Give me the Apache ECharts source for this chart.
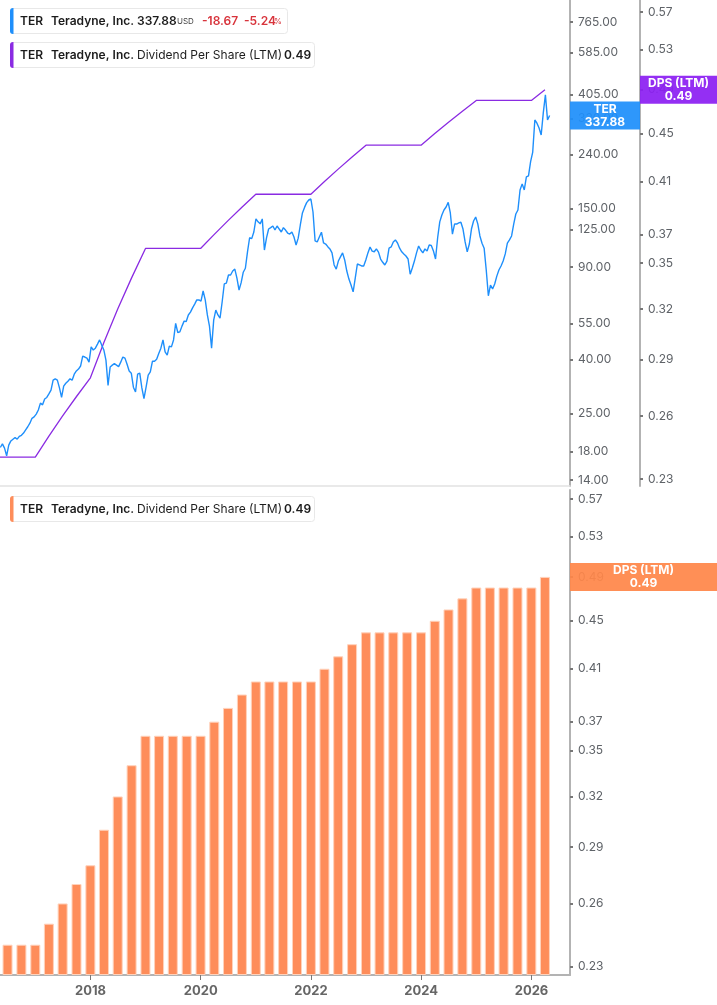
<!DOCTYPE html>
<html>
<head>
<meta charset="utf-8">
<title>TER - Dividend Per Share (LTM)</title>
<script src="https://cdn.jsdelivr.net/npm/echarts@6/dist/echarts.min.js"></script>
<style>
  html, body { margin: 0; padding: 0; background: #fff; }
  #main { width: 717px; height: 1005px; }
</style>
</head>
<body>
<div id="main"></div>
<script type="text/javascript">
// closing prices, one every 14 days starting 2016-05-13
var priceStart = [2016, 4, 13];
var priceStepDays = 14;
var priceValues = [
  18.6, 19.2, 18.5, 17.3, 19.0, 19.7, 20.0, 20.3, 20.0, 20.5, 20.7, 21.1, 21.7, 22.3, 23.0, 24.0, 24.3, 24.9, 25.8, 27.4, 27.0, 28.4, 28.8, 29.7, 30.7, 33.5,
  33.9, 33.5, 31.3, 28.8, 31.8, 32.6, 33.2, 33.9, 33.5, 35.3, 36.3, 36.9, 37.9, 41.3, 41.0, 40.6, 39.2, 44.8, 43.6, 44.3, 45.9, 47.6, 45.5, 43.6, 39.9,
  32.0, 37.6, 38.2, 38.7, 38.2, 37.7, 39.2, 41.0, 40.6, 38.5, 36.3, 35.6, 31.5, 30.2, 35.3, 35.6, 31.3, 28.5, 31.5, 35.0, 36.0, 39.5, 39.5, 40.2, 42.3,
  44.3, 47.6, 42.9, 41.7, 45.1, 44.8, 47.6, 55.0, 50.8, 51.1, 53.7, 56.1, 55.9, 59.2, 60.7, 63.0, 65.1, 67.5, 67.5, 66.8, 73.0, 67.5, 59.2, 53.7, 44.3,
  56.6, 61.8, 59.2, 57.6, 66.3, 77.6, 78.2, 83.9, 83.9, 86.9, 88.4, 81.7, 73.6, 78.5, 86.0, 89.0, 102.7, 116.2, 115.3, 122.2, 137.0, 133.5, 131.2, 137.0, 104.4,
  116.0, 125.4, 126.9, 128.8, 124.3, 128.8, 125.4, 122.2, 126.9, 124.3, 121.1, 120.0, 122.2, 117.0, 109.1, 115.8, 129.9, 144.3, 151.5, 157.9, 161.6, 163.0, 145.5, 113.0, 112.0,
  117.0, 122.0, 111.0, 110.0, 107.5, 105.4, 101.8, 91.6, 88.4, 94.8, 98.3, 101.8, 95.7, 86.9, 81.0, 76.9, 72.4, 81.7, 92.4, 91.6, 90.8, 90.8, 95.7, 101.8, 107.2,
  103.4, 102.8, 105.4, 102.5, 96.5, 93.8, 91.6, 94.8, 106.1, 107.2, 111.9, 114.0, 111.0, 106.1, 102.8, 100.9, 99.1, 96.5, 84.5, 89.2, 94.8, 101.8, 108.1, 104.4, 101.8,
  105.4, 103.6, 109.1, 108.6, 103.6, 96.5, 116.2, 133.5, 141.8, 148.1, 152.0, 158.3, 144.3, 120.0, 131.0, 131.0, 132.3, 133.0, 125.4, 112.0, 102.8, 110.0, 125.4, 134.5, 139.2,
  131.2, 118.0, 110.7, 106.1, 87.7, 70.0, 76.9, 74.3, 77.6, 83.1, 87.7, 90.8, 94.8, 100.9, 110.8, 114.0, 118.0, 131.0, 143.0, 148.1, 176.4, 186.0, 176.4, 197.6, 199.6,
  226.0, 245.6, 325.0, 316.0, 303.0, 285.0, 346.0, 405.0, 325.0, 337.88
];

// dividend per share, last twelve months, quarterly
var dpsDates = [
  '2016-03-31', '2016-06-30', '2016-09-30', '2016-12-31',
  '2017-03-31', '2017-06-30', '2017-09-30', '2017-12-31',
  '2018-03-31', '2018-06-30', '2018-09-30', '2018-12-31',
  '2019-03-31', '2019-06-30', '2019-09-30', '2019-12-31',
  '2020-03-31', '2020-06-30', '2020-09-30', '2020-12-31',
  '2021-03-31', '2021-06-30', '2021-09-30', '2021-12-31',
  '2022-03-31', '2022-06-30', '2022-09-30', '2022-12-31',
  '2023-03-31', '2023-06-30', '2023-09-30', '2023-12-31',
  '2024-03-31', '2024-06-30', '2024-09-30', '2024-12-31',
  '2025-03-31', '2025-06-30', '2025-09-30', '2025-12-31',
  '2026-03-31'
];
var dpsValues = [
  0.24, 0.24, 0.24, 0.24,
  0.25, 0.26, 0.27, 0.28,
  0.30, 0.32, 0.34, 0.36,
  0.36, 0.36, 0.36, 0.36,
  0.37, 0.38, 0.39, 0.40,
  0.40, 0.40, 0.40, 0.40,
  0.41, 0.42, 0.43, 0.44,
  0.44, 0.44, 0.44, 0.44,
  0.45, 0.46, 0.47, 0.48,
  0.48, 0.48, 0.48, 0.48,
  0.49
];

var priceTicks = [765, 585, 405, 330, 240, 150, 125, 90, 55, 40, 25, 18, 14];
var dpsTicks = [0.57, 0.53, 0.49, 0.45, 0.41, 0.37, 0.35, 0.32, 0.29, 0.26, 0.23];
var yearTicks = [2018, 2020, 2022, 2024, 2026];

var lastPrice = 337.88, priceChange = -18.67, priceChangePct = -5.24;
var lastDps = 0.49;

var BLUE = '#1e8ffb', PURPLE = '#8a2be2', ORANGE = '#fe8d5a';
var FONT = 'Inter';

var myChart = echarts.init(document.getElementById('main'), null, { renderer: 'canvas' });

function ts(s) {
  var p = s.split('-');
  return new Date(+p[0], +p[1] - 1, +p[2]).getTime();
}

var priceData = priceValues.map(function (v, i) {
  var d = new Date(priceStart[0], priceStart[1], priceStart[2] + i * priceStepDays);
  return [d.getTime(), v];
});
var dpsLineData = dpsDates.map(function (d, i) { return [ts(d), dpsValues[i]]; });
var dpsBarData = dpsLineData.slice(1);
var yearVals = yearTicks.map(function (y) { return new Date(y, 0, 1).getTime(); });

var xMin = ts('2016-05-11');
var xMax = ts('2026-09-13');

function logAxis(gridIndex, min, max, ticks, offset, fmt) {
  return {
    type: 'log',
    gridIndex: gridIndex,
    position: 'right',
    offset: offset,
    min: min,
    max: max,
    startValue: min,
    axisLine: { show: true, lineStyle: { color: '#b3b3b3', width: 2 } },
    axisTick: { show: true, customValues: ticks, length: 3, lineStyle: { color: '#777', width: 2 } },
    axisLabel: {
      customValues: ticks,
      formatter: function (v) { return Number(v).toFixed(fmt); },
      color: '#5f6368', fontSize: 12, fontFamily: FONT, margin: 8
    },
    splitLine: { show: false },
    minorTick: { show: false }
  };
}

option = {
  animation: false,
  backgroundColor: '#fff',
  grid: [
    { left: 0, right: 147, top: 0, height: 486 },
    { left: 0, right: 147, top: 490, bottom: 30 }
  ],
  xAxis: [
    {
      type: 'value', gridIndex: 0, min: xMin, max: xMax,
      axisLine: { show: true, onZero: false, lineStyle: { color: '#e2e2e2', width: 1.5 } },
      axisTick: { show: false }, axisLabel: { show: false }, splitLine: { show: false }
    },
    {
      type: 'value', gridIndex: 1, min: xMin, max: xMax,
      axisLine: { show: true, onZero: false, lineStyle: { color: '#b3b3b3', width: 2 } },
      axisTick: { show: true, customValues: yearVals, length: 5, lineStyle: { color: '#777' } },
      axisLabel: {
        customValues: yearVals,
        formatter: function (v) { return String(new Date(v).getFullYear()); },
        color: '#666', fontSize: 13, fontWeight: 'bold', fontFamily: FONT, margin: 10
      },
      splitLine: { show: false }
    }
  ],
  yAxis: [
    logAxis(0, 13.29, 927, priceTicks, 0, 2),
    logAxis(0, 0.2269, 0.5834, dpsTicks, 70, 2),
    logAxis(1, 0.2263, 0.580, dpsTicks, 0, 2)
  ],
  series: [
    {
      name: 'DPS (LTM)', type: 'line', xAxisIndex: 0, yAxisIndex: 1,
      data: dpsLineData, showSymbol: false, symbol: 'none',
      lineStyle: { color: PURPLE, width: 1.3 }, z: 2
    },
    {
      name: 'TER', type: 'line', xAxisIndex: 0, yAxisIndex: 0,
      data: priceData, showSymbol: false, symbol: 'none',
      lineStyle: { color: BLUE, width: 1.4 }, z: 3
    },
    {
      name: 'DPS (LTM) bars', type: 'bar', xAxisIndex: 1, yAxisIndex: 2,
      data: dpsBarData, barWidth: 10, clip: true,
      itemStyle: { color: ORANGE, borderColor: '#ffd2bb', borderWidth: 1 }
    }
  ]
};

myChart.setOption(option);

// legend boxes in the top-left corners and value tags on the axes
function legendBox(top, width, color, parts) {
  var children = [
    { type: 'rect', z: 100, shape: { x: 10.5, y: top + 0.5, width: width, height: 25, r: 3 },
      style: { fill: '#fff', stroke: '#e8e8e8', lineWidth: 1 } },
    { type: 'rect', z: 101, shape: { x: 10, y: top, width: 3.5, height: 26, r: [3, 0, 0, 3] },
      style: { fill: color } }
  ];
  parts.forEach(function (p) {
    children.push({
      type: 'text', z: 102, x: p[0], y: top + 13 + (p[4] || 0),
      style: {
        text: p[1], fill: p[3] || '#1c1c1c', fontFamily: FONT,
        fontSize: p[5] || 12, fontWeight: p[2] ? 600 : 400, verticalAlign: 'middle'
      }
    });
  });
  return { type: 'group', children: children };
}

function valueTag(x, w, yc, color, line1, line2) {
  return {
    type: 'group',
    children: [
      { type: 'rect', z: 100, shape: { x: x, y: yc - 14, width: w, height: 28 },
        style: { fill: color, opacity: 0.93 } },
      { type: 'text', z: 101, x: x + w / 2, y: yc,
        style: {
          text: line1 + '\n' + line2, fill: '#fff', fontFamily: FONT, fontSize: 12,
          fontWeight: 'bold', align: 'center', verticalAlign: 'middle', lineHeight: 13
        } }
    ]
  };
}

var RED = '#d8343c';
var yPrice = myChart.convertToPixel({ yAxisIndex: 0 }, lastPrice);
var yDpsTop = myChart.convertToPixel({ yAxisIndex: 1 }, lastDps);
var yDpsBottom = myChart.convertToPixel({ yAxisIndex: 2 }, lastDps);

myChart.setOption({
  graphic: [
    legendBox(8, 277, BLUE, [
      [20, 'TER', true], [51, 'Teradyne, Inc.', true], [137, lastPrice.toFixed(2), true],
      [177, 'USD', false, '#444', 1, 8], [202, priceChange.toFixed(2), true, RED],
      [244, priceChangePct.toFixed(2), true, RED], [274, '%', false, RED, 1, 8]
    ]),
    legendBox(42, 304, PURPLE, [
      [20, 'TER', true], [51, 'Teradyne, Inc.', true],
      [137, 'Dividend Per Share (LTM)', false], [284, lastDps.toFixed(2), true]
    ]),
    legendBox(496, 304, ORANGE, [
      [20, 'TER', true], [51, 'Teradyne, Inc.', true],
      [137, 'Dividend Per Share (LTM)', false], [284, lastDps.toFixed(2), true]
    ]),
    valueTag(570, 70, yPrice, BLUE, 'TER', lastPrice.toFixed(2)),
    valueTag(640, 77, yDpsTop, '#8c1ff2', 'DPS (LTM)', lastDps.toFixed(2)),
    valueTag(570, 147, yDpsBottom, '#ff8749', 'DPS (LTM)', lastDps.toFixed(2))
  ]
});
</script>
</body>
</html>
